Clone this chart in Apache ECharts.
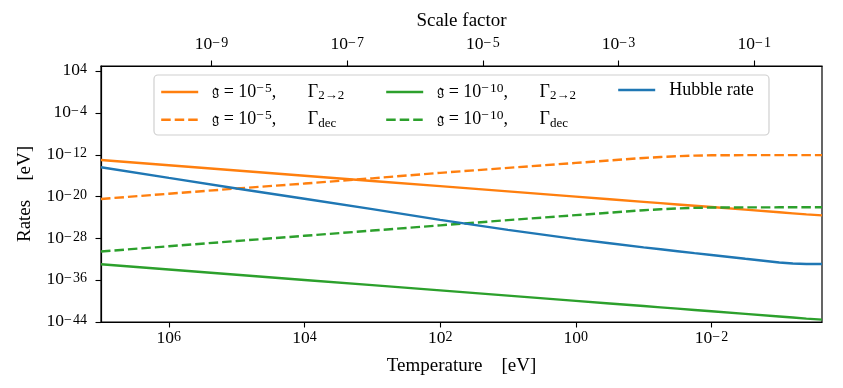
<!DOCTYPE html>
<html>
<head>
<meta charset="utf-8">
<script src="https://cdn.jsdelivr.net/npm/echarts@6/dist/echarts.min.js"></script>
<style>
html, body { margin: 0; padding: 0; background: #fff; }
#main { width: 843px; height: 388px; }
</style>
</head>
<body>
<div id="main"></div>
<script>
// all values are log10 (temperature in eV, rates in eV)
var logT     = [7, 6, 5, 4, 3, 2, 1, 0, -0.5, -1, -1.25, -1.5, -1.75, -2, -2.5, -3, -3.2, -3.4, -3.63];
var g5Scat   = [-13.0, -14.0, -15.0, -16.0, -17.0, -18.0, -19.0, -20.0, -20.5, -21.0, -21.25, -21.5, -21.75, -22.0, -22.5, -23.0, -23.2, -23.4, -23.6];
var g5Dec    = [-20.45, -19.45, -18.45, -17.5, -16.5, -15.45, -14.5, -13.55, -13.08, -12.6, -12.42, -12.26, -12.15, -12.09, -12.06, -12.05, -12.05, -12.05, -12.05];
var g10Scat  = [-32.95, -33.95, -34.95, -35.95, -36.95, -37.95, -38.95, -39.95, -40.45, -40.95, -41.2, -41.45, -41.7, -41.95, -42.45, -42.95, -43.15, -43.35, -43.55];
var g10Dec   = [-30.5, -29.5, -28.5, -27.5, -26.5, -25.5, -24.5, -23.55, -23.08, -22.6, -22.42, -22.26, -22.15, -22.09, -22.06, -22.05, -22.05, -22.05, -22.05];
var hubble   = [-14.39, -16.42, -18.44, -20.42, -22.4, -24.45, -26.37, -28.14, -28.93, -29.72, -30.08, -30.45, -30.82, -31.18, -31.9, -32.6, -32.8, -32.89, -32.9];

var tempTicks  = [6, 4, 2, 0, -2];
var scaleTicks = [-9, -7, -5, -3, -1];
var rateTicks  = [4, -4, -12, -20, -28, -36, -44];

var FONT = '"Liberation Serif", "DejaVu Serif", serif';

var myChart = echarts.init(document.getElementById('main'));

function pairs(ys)
{
    var out = [];
    for (var i = 0; i < logT.length; i++) {
        out.push([logT[i], ys[i]]);
    }
    return out;
}

function pow10(v)
{
    var s = String(Math.round(v)).replace('-', '\u2212\u200A');
    return '{b|10}{s|' + s + '}';
}

var tickRich = {
    b: { fontFamily: FONT, fontSize: 17.5, color: '#000', lineHeight: 17, verticalAlign: 'bottom' },
    s: { fontFamily: FONT, fontSize: 14, color: '#000', lineHeight: 12, verticalAlign: 'top', padding: [0, 0, 8, 0] }
};

var legendRich = {
    t: { fontFamily: FONT, fontSize: 18, color: '#000', lineHeight: 22, verticalAlign: 'middle' },
    g: { fontFamily: '"DejaVu Serif", "DejaVu Sans", serif', fontSize: 16, color: '#000', lineHeight: 22, verticalAlign: 'middle' },
    s: { fontFamily: FONT, fontSize: 13.5, color: '#000', lineHeight: 12, verticalAlign: 'top' },
    u: { fontFamily: FONT, fontSize: 13, color: '#000', lineHeight: 12, verticalAlign: 'bottom', padding: [0, 0, 1, 0] }
};

var legendNames = {
    'g5 scat':  '{g|\uD835\uDD24}{t| = 10}{s|\u2212\u200A5}{t|,       \u0393}{u|2\u21922}',
    'g5 dec':   '{g|\uD835\uDD24}{t| = 10}{s|\u2212\u200A5}{t|,       \u0393}{u|dec}',
    'g10 scat': '{g|\uD835\uDD24}{t| = 10}{s|\u2212\u200A10}{t|,       \u0393}{u|2\u21922}',
    'g10 dec':  '{g|\uD835\uDD24}{t| = 10}{s|\u2212\u200A10}{t|,       \u0393}{u|dec}',
    'Hubble':   '{t|Hubble rate}'
};

function legendAt(left, names)
{
    return {
        orient: 'vertical',
        left: left,
        top: 81,
        padding: 0,
        itemWidth: 37,
        itemHeight: 14,
        itemGap: 5.7,
        data: names,
        itemStyle: { opacity: 0 },
        lineStyle: { width: 2.4 },
        formatter: function (name) { return legendNames[name]; },
        textStyle: { padding: [0, 0, 0, 9], rich: legendRich }
    };
}

function lineSeries(name, ys, color, dashed)
{
    return {
        name: name,
        type: 'line',
        xAxisIndex: 0,
        yAxisIndex: 0,
        symbol: 'none',
        showSymbol: false,
        clip: true,
        lineStyle: { color: color, width: 2.4, type: dashed ? [9.5, 4] : 'solid' },
        itemStyle: { color: color },
        data: pairs(ys)
    };
}

var axisLineStyle = { onZero: false, lineStyle: { color: '#000', width: 1.2 } };
var axisTickStyle = { length: 5.5, lineStyle: { color: '#000', width: 1.1 } };
var nameStyle = { fontFamily: FONT, fontSize: 19, color: '#000' };

myChart.setOption({
    animation: false,
    backgroundColor: '#fff',
    grid: {
        left: 101, right: 21, top: 66, bottom: 66,
        show: true, borderColor: '#000', borderWidth: 1.2, backgroundColor: 'transparent'
    },
    graphic: [{
        type: 'rect',
        z: 1,
        shape: { x: 154, y: 75, width: 615, height: 60, r: 4 },
        style: { fill: 'rgba(255,255,255,0.8)', stroke: '#d0d0d0', lineWidth: 1.2 }
    }],
    legend: [
        legendAt(160, ['g5 scat', 'g5 dec']),
        legendAt(385, ['g10 scat', 'g10 dec']),
        legendAt(617, ['Hubble'])
    ],
    xAxis: [{
        type: 'value',
        position: 'bottom',
        inverse: true,
        min: -3.63,
        max: 7,
        name: 'Temperature    [eV]',
        nameLocation: 'middle',
        nameGap: 35,
        nameTextStyle: nameStyle,
        axisLine: axisLineStyle,
        axisTick: Object.assign({ customValues: tempTicks }, axisTickStyle),
        axisLabel: { customValues: tempTicks, margin: 8, formatter: pow10, rich: tickRich },
        splitLine: { show: false }
    }, {
        type: 'value',
        position: 'top',
        min: -10.63,
        max: 0,
        name: 'Scale factor',
        nameLocation: 'middle',
        nameGap: 32,
        nameTextStyle: nameStyle,
        axisLine: axisLineStyle,
        axisTick: Object.assign({ customValues: scaleTicks }, axisTickStyle),
        axisLabel: { customValues: scaleTicks, margin: 13, formatter: pow10, rich: tickRich },
        splitLine: { show: false }
    }],
    yAxis: [{
        type: 'value',
        min: -44,
        max: 5,
        name: 'Rates    [eV]',
        nameLocation: 'middle',
        nameRotate: 90,
        nameGap: 66,
        nameTextStyle: nameStyle,
        axisLine: axisLineStyle,
        axisTick: Object.assign({ customValues: rateTicks }, axisTickStyle),
        axisLabel: { customValues: rateTicks, margin: 14, formatter: pow10, rich: tickRich },
        splitLine: { show: false }
    }],
    series: [
        lineSeries('g5 scat', g5Scat, '#ff7f0e', false),
        lineSeries('g5 dec', g5Dec, '#ff7f0e', true),
        lineSeries('g10 scat', g10Scat, '#2ca02c', false),
        lineSeries('g10 dec', g10Dec, '#2ca02c', true),
        lineSeries('Hubble', hubble, '#1f77b4', false)
    ]
});
</script>
</body>
</html>
